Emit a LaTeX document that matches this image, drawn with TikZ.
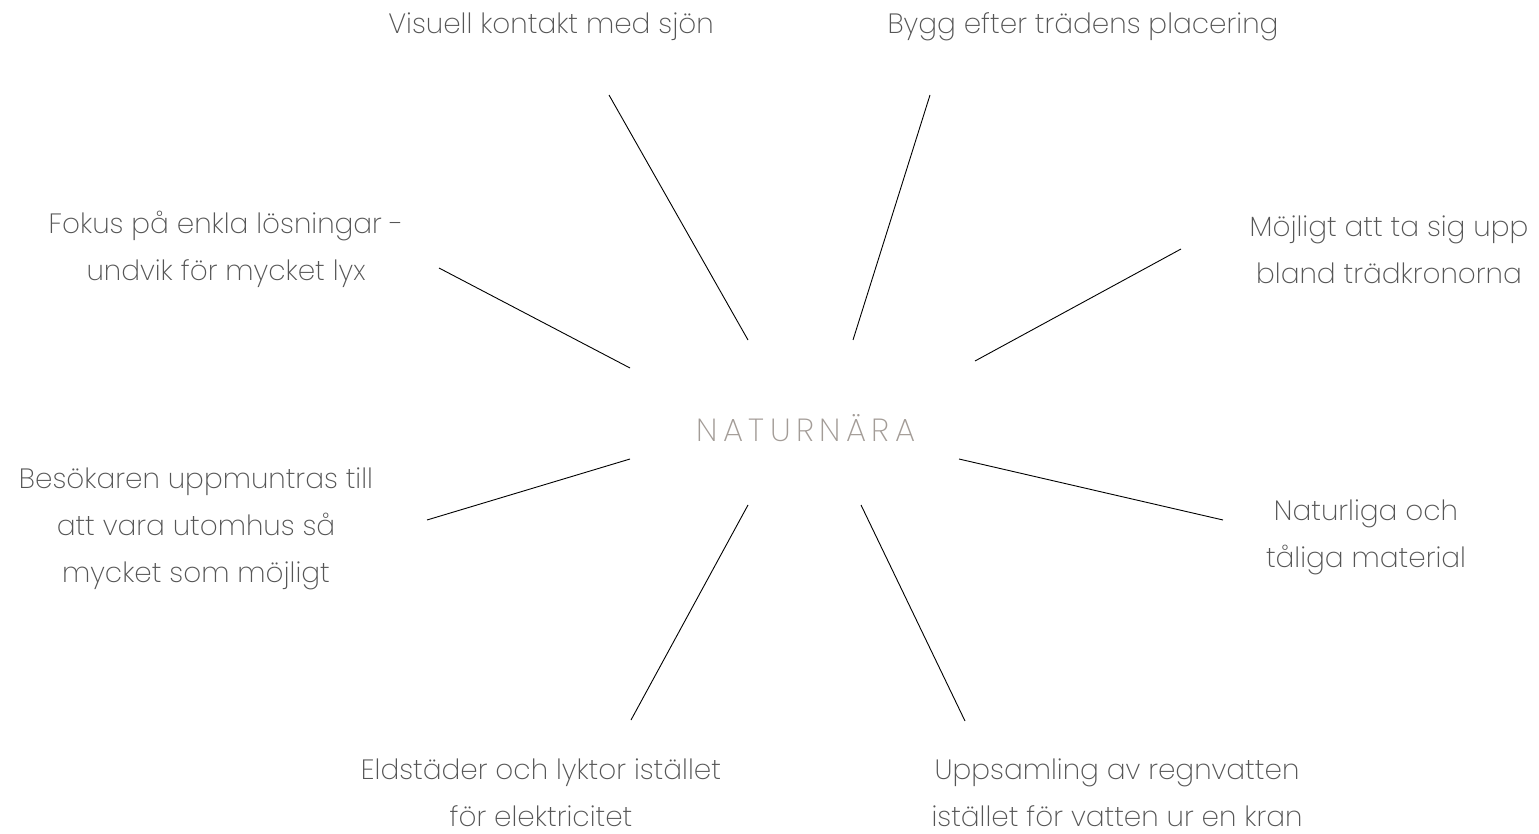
\documentclass[tikz,border=0pt]{standalone}
\usepackage{fontspec}
\setmainfont{Poppins}[UprightFont=* ExtraLight]
\newfontfamily\hubfont{Poppins}[UprightFont=* ExtraLight, LetterSpace=17]
\definecolor{txt}{HTML}{555555}
\definecolor{hub}{HTML}{A39C97}
\begin{document}
\begin{tikzpicture}[x=1pt,y=-1pt,
  lbl/.style={text=txt,font=\fontsize{27.9}{47}\selectfont,align=center,inner sep=0pt},
  spoke/.style={draw=black,line width=0.9pt}]
\useasboundingbox (0,0) rectangle (1539,834);
\node[text=hub,font=\hubfont\fontsize{32}{36}\selectfont,inner sep=0pt] (c) at (806,428) {NATURNÄRA};
\node[lbl] (t1) at (551,27) {Visuell kontakt med sjön};
\node[lbl] (t2) at (1083,27) {Bygg efter trädens placering};
\node[lbl] (t3) at (1389,250) {Möjligt att ta sig upp\\bland trädkronorna};
\node[lbl] (t4) at (226,249) {Fokus på enkla lösningar -\\undvik för mycket lyx};
\node[lbl] (t5) at (196,529) {Besökaren uppmuntras till\\att vara utomhus så\\ mycket som möjligt};
\node[lbl] (t6) at (1366,537) {Naturliga och\\tåliga material};
\node[lbl] (t7) at (541,793) {Eldstäder och lyktor istället\\för elektricitet};
\node[lbl] (t8) at (1117,793) {Uppsamling av regnvatten\\istället för vatten ur en kran};
\coordinate (a1) at (609,95); \coordinate (b1) at (748,340);
\coordinate (a2) at (930,95); \coordinate (b2) at (853,340);
\coordinate (a3) at (1181,249); \coordinate (b3) at (975,361);
\coordinate (a4) at (439,268); \coordinate (b4) at (630,368);
\coordinate (a5) at (427,520); \coordinate (b5) at (630,459);
\coordinate (a6) at (1223,520); \coordinate (b6) at (959,459);
\coordinate (a7) at (631,720); \coordinate (b7) at (748,505);
\coordinate (a8) at (965,721); \coordinate (b8) at (861,505);
\foreach \i in {1,...,8} {\draw[spoke] (a\i) -- (b\i);}
\end{tikzpicture}
\end{document}
